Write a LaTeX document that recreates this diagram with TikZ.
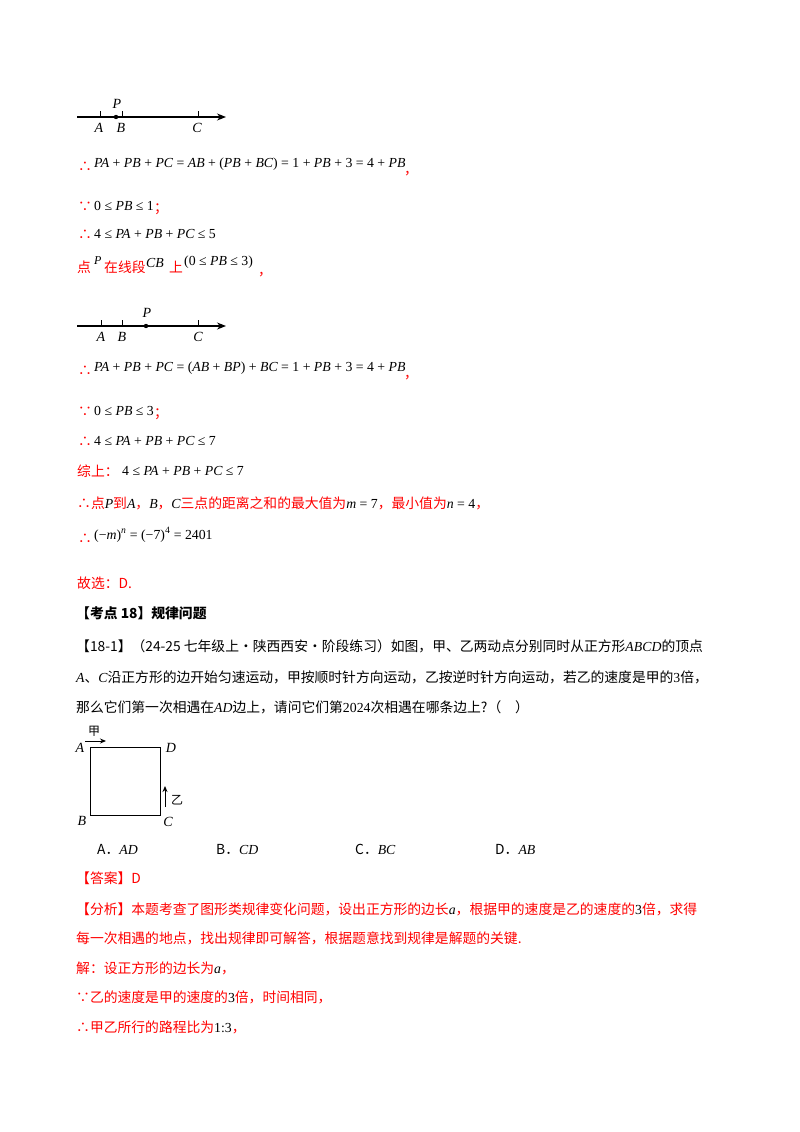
\documentclass[tikz,border=0pt]{standalone}
\usepackage{fontspec}
\setmainfont{Liberation Serif}
\newfontfamily\cjk{Noto Sans CJK SC}
\usetikzlibrary{arrows.meta}
\newcommand\mi[1]{{\itshape #1}}
\newcommand\zh[1]{{\cjk #1}}
\begin{document}
\begin{tikzpicture}[x=1pt,y=-1pt,
  t/.style={anchor=base west,inner sep=0pt,font=\fontsize{13.8}{16}\selectfont},
  r/.style={t,text=red},
  q/.style={anchor=base west,inner sep=0pt,font=\fontsize{13.8}{16}\selectfont},
  lab/.style={inner sep=0pt,font=\fontsize{14}{16}\selectfont\itshape},
  axis/.style={-{Stealth[length=9pt,width=7pt]},line width=1.2pt}]
\useasboundingbox[fill=white] (0,0) rectangle (800,1132);
% number line 1
\coordinate (l1s) at (77,117); \coordinate (l1e) at (226,117);
\draw[axis] (l1s) -- (l1e);
\foreach \x/\n in {100/A,122/B,198/C}{\draw[line width=0.8pt] (\x,117) -- (\x,111); \node[lab] at (\x-1,128) {\n};}
\fill (116,117) circle (2.2); \node[lab] at (117,104) {P};
\node[r] at (78,171) {\zh{∴}};
\node[t] at (94,167) {\mi{PA} + \mi{PB} + \mi{PC} = \mi{AB} + (\mi{PB} + \mi{BC}) = 1 + \mi{PB} + 3 = 4 + \mi{PB}};
\node[r] at (404,174) {\zh{，}};
\node[r] at (78,211) {\zh{∵}}; \node[t] at (94,210) {0 ≤ \mi{PB} ≤ 1}; \node[r] at (154,212) {\zh{；}};
\node[r] at (78,239) {\zh{∴}}; \node[t] at (94,238) {4 ≤ \mi{PA} + \mi{PB} + \mi{PC} ≤ 5};
\node[q,text=red] at (77,272) {\zh{点}}; \node[t,font=\fontsize{12}{13}\selectfont] at (94,264) {\mi{P}};
\node[q,text=red] at (104,272) {\zh{在线段}}; \node[t] at (146,267) {\mi{CB}};
\node[q,text=red] at (169,272) {\zh{上}}; \node[t] at (184,265) {(0 ≤ \mi{PB} ≤ 3)}; \node[r] at (258,275) {\zh{，}};
% number line 2
\coordinate (l2s) at (77,326); \coordinate (l2e) at (226,326);
\draw[axis] (l2s) -- (l2e);
\foreach \x/\n in {101/A,122/B,198/C}{\draw[line width=0.8pt] (\x,326) -- (\x,320); \node[lab] at (\x,337) {\n};}
\fill (146,326) circle (2.2); \node[lab] at (147,313) {P};
\node[r] at (78,375) {\zh{∴}};
\node[t] at (94,371) {\mi{PA} + \mi{PB} + \mi{PC} = (\mi{AB} + \mi{BP}) + \mi{BC} = 1 + \mi{PB} + 3 = 4 + \mi{PB}};
\node[r] at (404,378) {\zh{，}};
\node[r] at (78,416) {\zh{∵}}; \node[t] at (94,415) {0 ≤ \mi{PB} ≤ 3}; \node[r] at (154,417) {\zh{；}};
\node[r] at (78,446) {\zh{∴}}; \node[t] at (94,445) {4 ≤ \mi{PA} + \mi{PB} + \mi{PC} ≤ 7};
\node[q,text=red] at (77,476) {\zh{综上：}}; \node[t] at (122,475) {4 ≤ \mi{PA} + \mi{PB} + \mi{PC} ≤ 7};
\node[q,text=red] at (77,508) {\zh{∴点}\textcolor{black}{\mi{P}}\zh{到}\textcolor{black}{\mi{A}}\zh{，}\textcolor{black}{\mi{B}}\zh{，}\textcolor{black}{\mi{C}}\zh{三点的距离之和的最大值为}\textcolor{black}{\mi{m} = 7}\zh{，最小值为}\textcolor{black}{\mi{n} = 4}\zh{，}};
\node[r] at (78,543) {\zh{∴}};
\node[t] at (94,539) {(−\mi{m})\textsuperscript{\mi{n}} = (−7)\textsuperscript{4} = 2401};
\node[q,text=red] at (77,588) {\zh{故选：D.}};
\node[q,text=black] at (76,618) {\cjk\bfseries 【考点 18】规律问题};
\node[q] at (76,651) {\zh{【18-1】（24-25 七年级上·陕西西安·阶段练习）如图，甲、乙两动点分别同时从正方形}\mi{ABCD}\zh{的顶点}};
\node[q] at (76,682) {\mi{A}\zh{、}\mi{C}\zh{沿正方形的边开始匀速运动，甲按顺时针方向运动，乙按逆时针方向运动，若乙的速度是甲的}3\zh{倍，}};
\node[q] at (76,712) {\zh{那么它们第一次相遇在}\mi{AD}\zh{边上，请问它们第}2024\zh{次相遇在哪条边上?（\quad）}};
% square
\node[draw,line width=1pt,minimum width=70,minimum height=68,inner sep=0pt] (sq) at (125,781) {};
\node[lab] at (80,748) {A}; \node[lab] at (171,748) {D};
\node[lab] at (82,821) {B}; \node[lab] at (168,822) {C};
\coordinate (j1) at (85,741); \coordinate (j2) at (106,741);
\draw[-{Stealth[length=6pt,width=5pt]},line width=0.9pt] (j1) -- (j2); \node[inner sep=0pt,font=\fontsize{12}{13}\cjk] at (94,731) {甲};
\coordinate (y1) at (165,807); \coordinate (y2) at (165,786);
\draw[-{Stealth[length=6pt,width=5pt]},line width=0.9pt] (y1) -- (y2); \node[inner sep=0pt,font=\fontsize{12}{13}\cjk] at (177,800) {乙};
\node[q] at (97,854) {\zh{A．}\mi{AD}};
\node[q] at (216,854) {\zh{B．}\mi{CD}};
\node[q] at (355,854) {\zh{C．}\mi{BC}};
\node[q] at (495,854) {\zh{D．}\mi{AB}};
\node[q,text=red] at (76,883) {\zh{【答案】D}};
\node[q,text=red] at (76,914) {\zh{【分析】本题考查了图形类规律变化问题，设出正方形的边长}\textcolor{black}{\mi{a}}\zh{，根据甲的速度是乙的速度的}\textcolor{black}{3}\zh{倍，求得}};
\node[q,text=red] at (76,943) {\zh{每一次相遇的地点，找出规律即可解答，根据题意找到规律是解题的关键.}};
\node[q,text=red] at (76,973) {\zh{解：设正方形的边长为}\textcolor{black}{\mi{a}}\zh{，}};
\node[q,text=red] at (76,1002) {\zh{∵乙的速度是甲的速度的}\textcolor{black}{3}\zh{倍，时间相同，}};
\node[q,text=red] at (76,1032) {\zh{∴甲乙所行的路程比为}\textcolor{black}{1:3}\zh{，}};
\end{tikzpicture}
\end{document}
